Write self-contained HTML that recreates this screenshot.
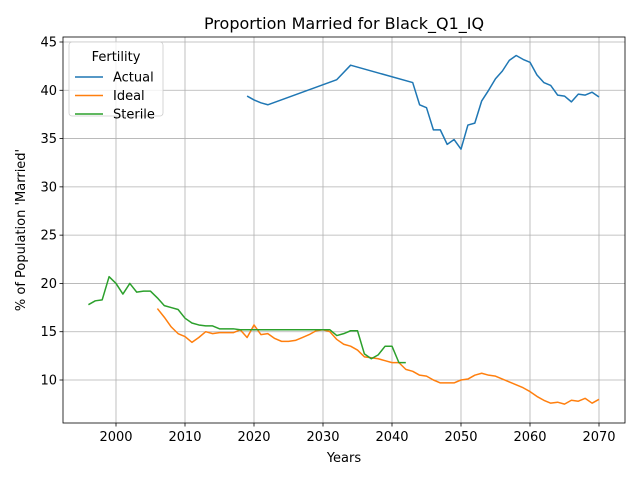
<!DOCTYPE html>
<html><head><meta charset="utf-8"><style>
body{margin:0;background:#fff;font-family:"DejaVu Sans","Liberation Sans",sans-serif;}
svg{display:block}
</style></head><body>
<svg id="chart" width="640" height="480" xmlns="http://www.w3.org/2000/svg" font-family="DejaVu Sans, Liberation Sans, sans-serif"></svg>
<script>
const actualYears=[2019,2020,2021,2022,2032,2034,2043,2044,2045,2046,2047,2048,2049,2050,2051,2052,2053,2054,2055,2056,2057,2058,2059,2060,2061,2062,2063,2064,2065,2066,2067,2068,2069,2070];
const actualVals=[39.4,39.0,38.7,38.5,41.1,42.6,40.8,38.5,38.2,35.9,35.9,34.4,34.9,33.9,36.4,36.6,38.9,40.0,41.2,42.0,43.1,43.6,43.2,42.9,41.6,40.8,40.5,39.5,39.4,38.8,39.6,39.5,39.8,39.3];
const idealYears=[2006,2007,2008,2009,2010,2011,2012,2013,2014,2015,2016,2017,2018,2019,2020,2021,2022,2023,2024,2025,2026,2027,2028,2029,2030,2031,2032,2033,2034,2035,2036,2037,2038,2039,2040,2041,2042,2043,2044,2045,2046,2047,2048,2049,2050,2051,2052,2053,2054,2055,2056,2057,2058,2059,2060,2061,2062,2063,2064,2065,2066,2067,2068,2069,2070];
const idealVals=[17.4,16.5,15.5,14.8,14.5,13.9,14.4,15.0,14.8,14.9,14.9,14.9,15.2,14.4,15.7,14.7,14.8,14.3,14.0,14.0,14.1,14.4,14.7,15.1,15.2,15.0,14.2,13.7,13.5,13.1,12.4,12.3,12.2,12.0,11.8,11.8,11.1,10.9,10.5,10.4,10.0,9.7,9.7,9.7,10.0,10.1,10.5,10.7,10.5,10.4,10.1,9.8,9.5,9.2,8.8,8.3,7.9,7.6,7.7,7.5,7.9,7.8,8.1,7.6,8.0];
const sterileYears=[1996,1997,1998,1999,2000,2001,2002,2003,2004,2005,2006,2007,2008,2009,2010,2011,2012,2013,2014,2015,2016,2017,2018,2031,2032,2033,2034,2035,2036,2037,2038,2039,2040,2041,2042];
const sterileVals=[17.8,18.2,18.3,20.7,20.0,18.9,20.0,19.1,19.2,19.2,18.5,17.7,17.5,17.3,16.4,15.9,15.7,15.6,15.6,15.3,15.3,15.3,15.2,15.2,14.6,14.8,15.1,15.1,12.7,12.2,12.6,13.5,13.5,11.8,11.8];
const xTicks=[2000,2010,2020,2030,2040,2050,2060,2070];
const yTicks=[10,15,20,25,30,35,40,45];

const L=63,R=625,T=37,B=423;
const X=v=>116+(v-2000)*483/70;
const Y=v=>380-(v-10)*338/35;
const svg=document.getElementById('chart');
const NS='http://www.w3.org/2000/svg';
function el(t,a,p){const e=document.createElementNS(NS,t);for(const k in a)e.setAttribute(k,a[k]);(p||svg).appendChild(e);return e;}
const grid=el('g',{});


xTicks.forEach(t=>{
 el('line',{x1:X(t),x2:X(t),y1:T,y2:B,stroke:'#b0b0b0','stroke-width':0.8},grid);
 el('line',{x1:X(t),x2:X(t),y1:B,y2:B+3.5,stroke:'#000','stroke-width':0.8},grid);
 const tx=el('text',{x:X(t),y:B+18,'font-size':13,'text-anchor':'middle'});
 
 
 tx.textContent=t;
});
yTicks.forEach(t=>{
 el('line',{x1:L,x2:R,y1:Y(t),y2:Y(t),stroke:'#b0b0b0','stroke-width':0.8},grid);
 el('line',{x1:L-3.5,x2:L,y1:Y(t),y2:Y(t),stroke:'#000','stroke-width':0.8},grid);
 const tx=el('text',{x:L-6,y:Y(t)+4.5,'font-size':13,'text-anchor':'end'});
 
 
 tx.textContent=t;
});
function line(xs,ys,c,name){
 const p=el('polyline',{points:xs.map((x,i)=>X(x)+','+Y(ys[i])).join(' '),fill:'none',stroke:c,'stroke-width':1.5,'stroke-linejoin':'round'});
 
 
}
line(actualYears,actualVals,'#1f77b4','actual-line');
line(idealYears,idealVals,'#ff7f0e','ideal-line');
line(sterileYears,sterileVals,'#2ca02c','sterile-line');
const frame=el('rect',{x:L,y:T,width:R-L,height:B-T,fill:'none',stroke:'#000','stroke-width':0.8});


const title=el('text',{x:(L+R)/2,y:29,'font-size':16,'text-anchor':'middle'});


title.textContent='Proportion Married for Black_Q1_IQ';
const xt=el('text',{x:(L+R)/2,y:462,'font-size':13,'text-anchor':'middle'});


xt.textContent='Years';
const yt=el('text',{x:0,y:0,'font-size':13,'text-anchor':'middle',transform:'translate(25,230) rotate(-90)'});


yt.textContent="% of Population 'Married'";
const lg=el('g',{});


el('rect',{x:69,y:42,width:94,height:74,rx:3,fill:'#fff','fill-opacity':0.8,stroke:'#ccc','stroke-width':0.8},lg);
const lt=el('text',{x:116,y:61,'font-size':13,'text-anchor':'middle'},lg);
lt.textContent='Fertility';
[['Actual','#1f77b4'],['Ideal','#ff7f0e'],['Sterile','#2ca02c']].forEach((s,i)=>{
 const g=el('g',{},lg);
 
 
 const y=77+i*18.5;
 el('line',{x1:75,x2:103,y1:y,y2:y,stroke:s[1],'stroke-width':1.5},g);
 const t=el('text',{x:113,y:y+4.5,'font-size':13},g);
 t.textContent=s[0];
});
</script>
</body></html>
